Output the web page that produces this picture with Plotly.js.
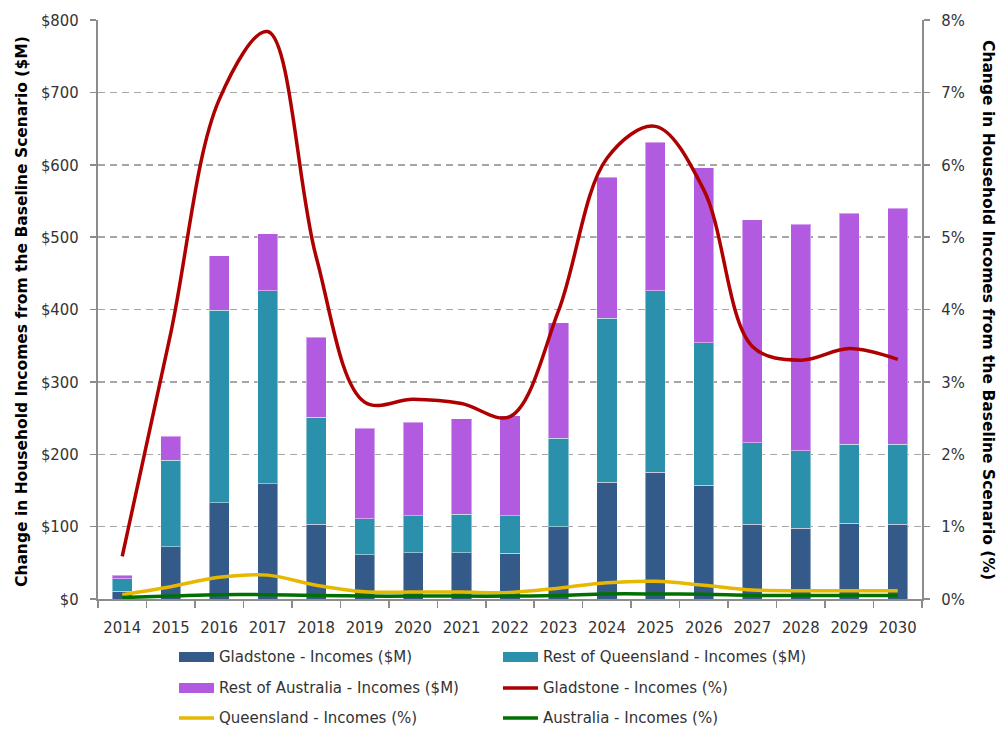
<!DOCTYPE html>
<html>
<head>
<meta charset="utf-8">
<script src="https://cdn.plot.ly/plotly-3.0.1.min.js"></script>
<style>
  html, body { margin: 0; padding: 0; background: #fff; }
  #chart { width: 1000px; height: 729px; }
</style>
</head>
<body>
<div id="chart"></div>
<script>
// Years on the category axis
const years = ['2014','2015','2016','2017','2018','2019','2020','2021','2022',
               '2023','2024','2025','2026','2027','2028','2029','2030'];

// Change in household incomes, $M (stacked bars)
const gladstoneIncomesM = [11, 72, 133, 159, 103, 61, 64, 64, 63, 100, 161, 175, 157, 103, 98, 105, 103];
const restQldIncomesM   = [17, 120, 266, 267, 148, 50, 51, 53, 52, 122, 227, 251, 197, 113, 107, 109, 111];
const restAusIncomesM   = [5, 33, 75, 79, 111, 125, 129, 132, 138, 160, 195, 205, 242, 308, 313, 319, 326];

// Change in household incomes, % (lines, right axis)
const gladstoneIncomesPct  = [0.59, 3.67, 6.90, 7.84, 4.73, 2.72, 2.76, 2.70, 2.52, 3.98, 6.09, 6.53, 5.65, 3.49, 3.30, 3.46, 3.31];
const queenslandIncomesPct = [0.06, 0.17, 0.30, 0.33, 0.19, 0.10, 0.097, 0.095, 0.09, 0.15, 0.225, 0.245, 0.19, 0.125, 0.115, 0.115, 0.115];
const australiaIncomesPct  = [0.02, 0.04, 0.06, 0.06, 0.05, 0.04, 0.04, 0.04, 0.04, 0.05, 0.07, 0.07, 0.065, 0.05, 0.05, 0.05, 0.05];

// Series names and colours
const seriesNames = [
  'Gladstone - Incomes ($M)',
  'Rest of Queensland - Incomes ($M)',
  'Rest of Australia - Incomes ($M)',
  'Gladstone - Incomes (%)',
  'Queensland - Incomes (%)',
  'Australia - Incomes (%)'
];
const seriesColors = ['#345A8A', '#2A90AC', '#B25AE0', '#AE0000', '#E6B800', '#007000'];

const TICK_FONT = "'DejaVu Sans Condensed', 'DejaVu Sans', sans-serif";
const FONT = "'DejaVu Sans', sans-serif";
const TEXT = '#333333';

const barEdge = { color: 'rgba(255,255,255,0.45)', width: 1 };
const bar = (y, i) => ({
  type: 'bar', x: years, y: y, name: seriesNames[i], yaxis: 'y',
  marker: { color: seriesColors[i], line: barEdge },
  hoverinfo: 'x+y+name'
});
const line = (y, i, w) => ({
  type: 'scatter', mode: 'lines', x: years, y: y, name: seriesNames[i], yaxis: 'y2',
  line: { color: seriesColors[i], width: w, shape: 'spline', smoothing: 1 }
});

const traces = [
  bar(gladstoneIncomesM, 0),
  bar(restQldIncomesM, 1),
  bar(restAusIncomesM, 2),
  line(gladstoneIncomesPct, 3, 3.5),
  line(queenslandIncomesPct, 4, 3.5),
  line(australiaIncomesPct, 5, 3.5)
];

// Plot area geometry (pixels) used to place the legend below the axes
const L = 98, R = 78, T = 20, B = 130, W = 1000, H = 729;
const PW = W - L - R, PH = H - T - B;
const px = x => (x - L) / PW;
const py = y => (H - B - y) / PH;

// Two-column legend: swatch + label per series
const legendCols = [179, 503];
const legendRows = [657, 688, 718];
const shapes = [], annotations = [];
seriesNames.forEach((name, i) => {
  const x0 = legendCols[i % 2], yc = legendRows[Math.floor(i / 2)];
  if (i < 3) {
    shapes.push({ type: 'rect', xref: 'paper', yref: 'paper',
      x0: px(x0), x1: px(x0 + 35), y0: py(yc + 5), y1: py(yc - 5),
      fillcolor: seriesColors[i], line: { width: 0 } });
  } else {
    shapes.push({ type: 'line', xref: 'paper', yref: 'paper',
      x0: px(x0), x1: px(x0 + 35), y0: py(yc), y1: py(yc),
      line: { color: seriesColors[i], width: 3.5 } });
  }
  annotations.push({ xref: 'paper', yref: 'paper', x: px(x0 + 38), y: py(yc),
    xanchor: 'left', yanchor: 'middle', showarrow: false, text: name,
    font: { family: FONT, size: 15, color: TEXT } });
});

// Axis titles
const yTitle = 'Change in Household Incomes from the Baseline Scenario';
annotations.push({ xref: 'paper', yref: 'paper', x: px(22), y: py(312),
  xanchor: 'center', yanchor: 'middle', textangle: -90, showarrow: false,
  text: '<b>' + yTitle + ' ($M)</b>', font: { family: FONT, size: 15.5, color: '#000' } });
annotations.push({ xref: 'paper', yref: 'paper', x: px(988), y: py(310),
  xanchor: 'center', yanchor: 'middle', textangle: 90, showarrow: false,
  text: '<b>' + yTitle + ' (%)</b>', font: { family: FONT, size: 15.5, color: '#000' } });

const axisColor = '#8C8C8C';
const layout = {
  width: W, height: H,
  margin: { l: L, r: R, t: T, b: B, pad: 0 },
  paper_bgcolor: '#ffffff', plot_bgcolor: '#ffffff',
  barmode: 'stack', bargap: 0.585,
  showlegend: false,
  font: { family: TICK_FONT, size: 16.5, color: TEXT },
  xaxis: {
    type: 'category', range: [-0.5, 16.5], fixedrange: true,
    showline: true, linecolor: axisColor, linewidth: 2,
    ticks: 'outside', tickson: 'boundaries', ticklen: 7, tickcolor: axisColor, tickwidth: 1.5,
    ticklabelstandoff: 12, showgrid: false,
    tickfont: { family: TICK_FONT, size: 16.5, color: TEXT }
  },
  yaxis: {
    range: [0, 800], dtick: 100, tickprefix: '$', fixedrange: true,
    showline: true, linecolor: axisColor, linewidth: 2,
    ticks: 'outside', ticklen: 6, tickcolor: axisColor, tickwidth: 1.5,
    ticklabelstandoff: 8,
    showgrid: true, gridcolor: '#A6A6A6', gridwidth: 1.5, griddash: '7px,5px',
    zeroline: false,
    tickfont: { family: TICK_FONT, size: 16.5, color: TEXT }
  },
  yaxis2: {
    overlaying: 'y', side: 'right', range: [0, 8], dtick: 1, ticksuffix: '%', fixedrange: true,
    showline: true, linecolor: axisColor, linewidth: 2,
    ticks: 'outside', ticklen: 6, tickcolor: axisColor, tickwidth: 1.5,
    ticklabelstandoff: 8,
    showgrid: false, zeroline: false,
    tickfont: { family: TICK_FONT, size: 16.5, color: TEXT }
  },
  shapes: shapes,
  annotations: annotations
};

Plotly.newPlot('chart', traces, layout, { displayModeBar: false, staticPlot: true });
</script>
</body>
</html>
